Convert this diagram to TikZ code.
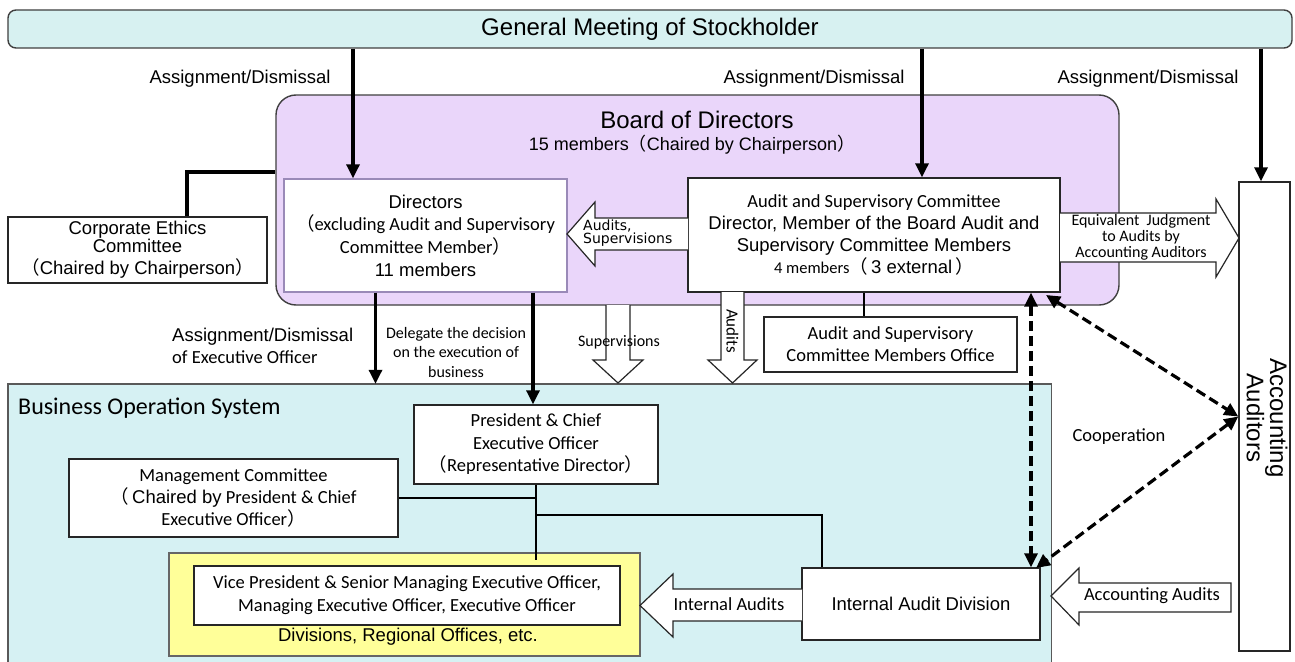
\documentclass[tikz,border=0pt]{standalone}
\usepackage{fontspec}
\setmainfont{Liberation Sans}
\newfontfamily\calfont{Carlito}
\newfontfamily\dvfont{DejaVu Sans}
\newfontfamily\cjkfont{Noto Sans CJK JP}
\usetikzlibrary{arrows.meta}
\newcommand\fwl{{\cjkfont （}}
\newcommand\fwr{{\cjkfont ）}}
\newcommand\fs[2]{\fontsize{#1}{#2}\selectfont}
\definecolor{gmcol}{HTML}{D7F1F1}
\definecolor{boardcol}{HTML}{EAD6FA}
\definecolor{boscol}{HTML}{D6F1F3}
\definecolor{yelcol}{HTML}{FFFF99}
\definecolor{dirborder}{HTML}{9A8AB8}
\tikzset{
  box/.style={draw=black!85, line width=1.4pt, fill=white, inner sep=0pt, align=center},
  thickarr/.style={line width=3.2pt, -{Triangle[length=14pt,width=13pt]}},
  thinline/.style={line width=1.6pt},
  dasharr/.style={line width=3.2pt, dash pattern=on 10pt off 5pt, {Triangle[length=14pt,width=13pt]}-{Triangle[length=14pt,width=13pt]}},
  blockarr/.style={draw=black!85, line width=1.2pt, fill=white, line join=miter},
  lab/.style={inner sep=0pt, align=center},
}
\begin{document}
\begin{tikzpicture}[x=1pt,y=-1pt]
\useasboundingbox (0,0) rectangle (1295,661);
\fill[white] (0,0) rectangle (1295,661);

% General meeting
\node[draw=black!75, line width=1.4pt, fill=gmcol, rounded corners=8pt, minimum width=1284pt, minimum height=38pt, inner sep=0pt, font=\fs{24}{28}] (gm) at (650,29) {General Meeting of Stockholder};

% Board
\node[draw=black!75, line width=1.4pt, fill=boardcol, rounded corners=20pt, minimum width=843pt, minimum height=210pt, inner sep=0pt] (board) at (697.5,200) {};
\node[lab, font=\fs{24}{28}] (boardtitle) at (697,120) {Board of Directors};
\node[lab, font=\fs{18}{22}] (boardsub) at (692,145) {15 members\fwl Chaired by Chairperson\fwr};

% Corporate ethics
\draw[line width=3.2pt] (187,217) |- (board.west |- 0,172);
\node[box, minimum width=259pt, minimum height=66pt, font=\fs{18.5}{16}] (ce) at (137.5,250) {Corporate Ethics\\Committee\\[5pt]\fwl Chaired by Chairperson\fwr};

% Directors and ASC
\node[box, draw=dirborder, minimum width=283pt, minimum height=113pt, font=\fs{18.5}{22.7}] (dir) at (425.5,235.5) {Directors\\{\calfont\fwl excluding Audit and Supervisory}\\{\calfont Committee Member\fwr}\\11 members};
\node[box, minimum width=372pt, minimum height=114pt, font=\fs{18.5}{22.3}] (asc) at (874,235) {{\calfont Audit and Supervisory Committee}\\Director, Member of the Board Audit and\\Supervisory Committee Members\\{\calfont\fs{16.5}{22.3}4 members}\fwl\,3 external\,\fwr};

% Accounting auditors
\node[box, minimum width=51pt, minimum height=469pt] (aa) at (1264.5,416.5) {};
\node[lab, rotate=-90, font=\fs{24}{16}] (aatext) at (1267,418) {Accounting\\Auditors};

% GM arrows
\draw[thickarr] (gm.south -| 353,0) -- (dir.north -| 353,0);
\draw[thickarr] (gm.south -| 922,0) -- (asc.north -| 922,0);
\draw[thickarr] (gm.south -| 1261,0) -- (aa.north -| 1261,0);
\node[lab, font=\fs{18.5}{22}] (la1) at (240,79) {Assignment/Dismissal};
\node[lab, font=\fs{18.5}{22}] (la2) at (814,79) {Assignment/Dismissal};
\node[lab, font=\fs{18.5}{22}] (la3) at (1148,79) {Assignment/Dismissal};

% Audits, Supervisions block arrow
\draw[blockarr] (688,218) -- (595,218) -- (595,202) -- (567,234) -- (595,266) -- (595,250) -- (688,250);
\node[lab, anchor=west, align=left, font=\fs{14}{13}\dvfont] (asuptext) at (583,233) {Audits,\\Supervisions};

% Equivalent judgment block arrow
\draw[blockarr] (1060,213) -- (1216,213) -- (1216,199) -- (1239,238) -- (1216,277) -- (1216,262) -- (1060,262);
\node[lab, font=\fs{16}{16}\calfont] (eqtext) at (1141,237) {Equivalent~~Judgment\\to Audits by\\Accounting Auditors};

% Business operation system
\node[fill=boscol, draw=none, minimum width=1043pt, minimum height=278pt, inner sep=0pt] (bos) at (529.5,523) {};
\draw[line width=1.4pt, draw=black!65] (bos.south west) -- (bos.north west) -- (bos.north east) -- (bos.south east);
\node[lab, anchor=west, font=\fs{24}{28}\calfont] (bostitle) at (18,408) {Business Operation System};

% Supervisions / Audits down arrows
\draw[blockarr] (606,305) -- (606,360) -- (593,360) -- (618,383) -- (643,360) -- (630,360) -- (630,305);
\node[lab, font=\fs{16}{19}\calfont] (suptext) at (619,342) {Supervisions};
\draw[blockarr] (721,292) -- (721,360) -- (708,360) -- (732.5,383) -- (757,360) -- (744,360) -- (744,292);
\node[lab, rotate=-90, font=\fs{17}{19}\calfont] (audtext) at (732.5,331) {Audits};

% Office
\draw[thinline] (asc.south -| 864,0) -- (864,317);
\node[box, minimum width=253pt, minimum height=55pt, font=\fs{18.5}{22}\calfont] (office) at (890.5,344.5) {Audit and Supervisory\\Committee Members Office};

% Directors down arrows
\node[box, minimum width=244pt, minimum height=79pt, font=\fs{18.5}{22.5}\calfont] (pres) at (536,444.5) {President \& Chief\\Executive Officer\\\fwl Representative Director\fwr};
\draw[thickarr] (dir.south -| 375.5,0) -- (bos.north -| 375.5,0);
\draw[thickarr] (dir.south -| 533,0) -- (pres.north -| 533,0);
\node[lab, anchor=west, align=left, font=\fs{18.5}{22}] (la4) at (172,346) {Assignment/Dismissal\\{\calfont of Executive Officer}};
\node[lab, font=\fs{16}{19.5}\calfont] (la5) at (456,352) {Delegate the decision\\on the execution of\\business};

% Management committee
\node[box, minimum width=329pt, minimum height=78pt, font=\fs{18.5}{22}\calfont] (mc) at (233.5,498) {Management Committee\\\fwl\,{\rmfamily Chaired by} President \& Chief\\Executive Officer\fwr};

% Yellow divisions
\node[draw=black!60, line width=1.4pt, fill=yelcol, minimum width=471pt, minimum height=103pt, inner sep=0pt] (yel) at (404.5,604.5) {};
\node[box, minimum width=426pt, minimum height=59pt, font=\fs{18.5}{23}\calfont] (vp) at (407,595.5) {Vice President \& Senior Managing Executive Officer,\\Managing Executive Officer, Executive Officer};
\node[lab, font=\fs{18.5}{22}] (divs) at (408,637) {Divisions, Regional Offices, etc.};

% Internal audit division
\node[box, minimum width=238pt, minimum height=72pt, font=\fs{18.5}{22}] (iad) at (921,604) {Internal Audit Division};

% Connectors in business operation
\draw[thinline] (pres.south) -- (pres.south |- 0,560);
\draw[thinline] (mc.east) -- (mc.east -| pres.south);
\draw[thinline] (pres.south |- 0,515) -| (iad.north -| 822,0);

% Internal audits arrow
\draw[blockarr] (802,589) -- (673,589) -- (673,574) -- (640,605.5) -- (673,637) -- (673,621) -- (802,621);
\node[lab, font=\fs{18.5}{22}\calfont] (iatext) at (729,604) {Internal Audits};

% Accounting audits arrow
\draw[blockarr] (1231,583) -- (1079,583) -- (1079,568) -- (1051,596) -- (1079,625) -- (1079,612) -- (1231,612) -- cycle;
\node[lab, font=\fs{18.5}{22}\calfont] (aatxt2) at (1152,596) {Accounting Audits};

% Cooperation dashed arrows
\coordinate (dtop) at (1046,295);
\coordinate (dbot) at (1036,568);
\draw[dasharr] (asc.south -| 1031,0) -- (iad.north -| 1031,0);
\draw[dasharr] (dtop) -- (aa.west);
\draw[dasharr] (aa.west) -- (dbot);
\node[lab, font=\fs{18.5}{22}\calfont] (coop) at (1119,437) {Cooperation};
\end{tikzpicture}
\end{document}
